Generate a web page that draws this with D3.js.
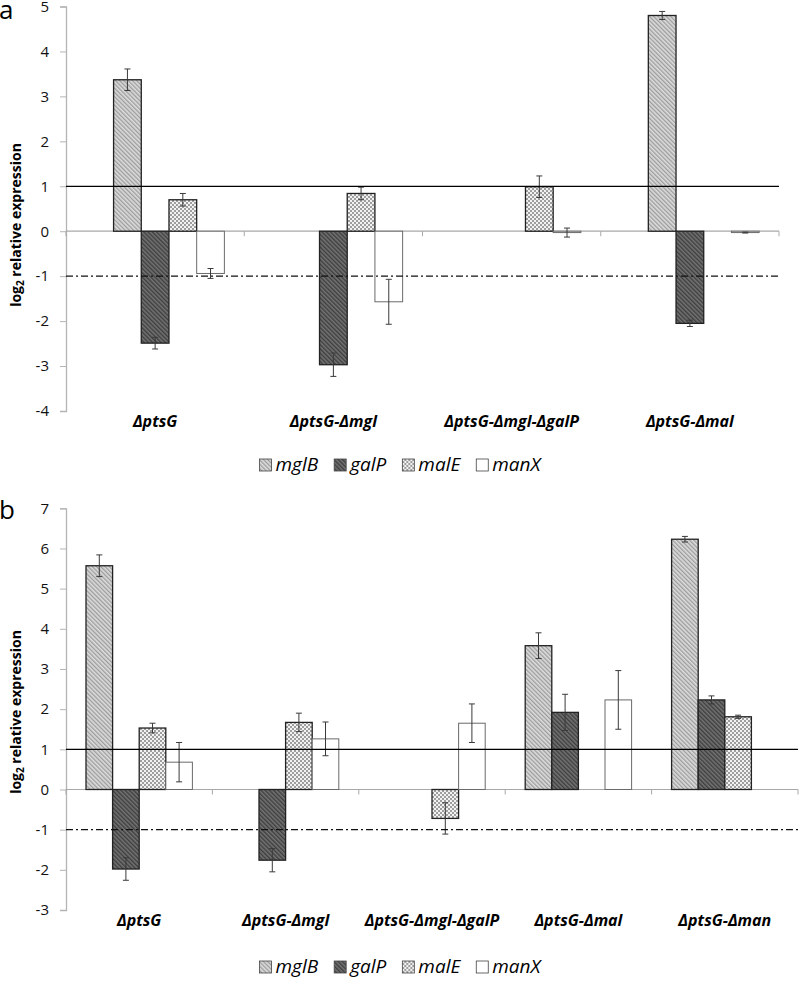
<!DOCTYPE html>
<html>
<head>
<meta charset="utf-8">
<script src="https://cdn.jsdelivr.net/npm/d3@7"></script>
<style>
  body { margin: 0; background: #fff; }
  svg { display: block; font-family: "Open Sans", sans-serif; }
</style>
</head>
<body>
<div id="vis"></div>
<script>

var seriesNames = ["mglB", "galP", "malE", "manX"];

// panel a
var catsA = ["ΔptsG", "ΔptsG-Δmgl", "ΔptsG-Δmgl-ΔgalP", "ΔptsG-Δmal"];
var mglB_A = [3.37, null, null, 4.80];
var galP_A = [-2.49, -2.97, null, -2.05];
var malE_A = [0.70, 0.84, 0.99, null];
var manX_A = [-0.94, -1.57, -0.03, -0.03];
var mglB_A_err = [0.24, null, null, 0.09];
var galP_A_err = [0.13, 0.26, null, 0.07];
var malE_A_err = [0.14, 0.14, 0.24, null];
var manX_A_err = [0.11, 0.50, 0.10, 0.01];
var ticksA = [-4, -3, -2, -1, 0, 1, 2, 3, 4, 5];

// panel b
var catsB = ["ΔptsG", "ΔptsG-Δmgl", "ΔptsG-Δmgl-ΔgalP", "ΔptsG-Δmal", "ΔptsG-Δman"];
var mglB_B = [5.57, null, null, 3.58, 6.23];
var galP_B = [-1.98, -1.76, null, 1.92, 2.23];
var malE_B = [1.53, 1.67, -0.72, null, 1.81];
var manX_B = [0.68, 1.26, 1.65, 2.23, null];
var mglB_B_err = [0.27, null, null, 0.32, 0.07];
var galP_B_err = [0.28, 0.29, null, 0.45, 0.10];
var malE_B_err = [0.12, 0.23, 0.39, null, 0.04];
var manX_B_err = [0.49, 0.42, 0.48, 0.73, null];
var ticksB = [-3, -2, -1, 0, 1, 2, 3, 4, 5, 6, 7];

var width = 800, height = 992;

var svg = d3.select('#vis').append('svg')
  .attr('width', width)
  .attr('height', height);

// fill patterns for the four genes
var defs = svg.append('defs');

var p1 = defs.append('pattern').attr('id', 'pat-mglB')
  .attr('patternUnits', 'userSpaceOnUse').attr('width', 3).attr('height', 3)
  .attr('patternTransform', 'rotate(-45)');
p1.append('rect').attr('width', 3).attr('height', 3).attr('fill', '#dcdcdc');
p1.append('rect').attr('width', 1.3).attr('height', 3).attr('fill', '#9c9c9c');

var p2 = defs.append('pattern').attr('id', 'pat-galP')
  .attr('patternUnits', 'userSpaceOnUse').attr('width', 3).attr('height', 3)
  .attr('patternTransform', 'rotate(-45)');
p2.append('rect').attr('width', 3).attr('height', 3).attr('fill', '#737373');
p2.append('rect').attr('width', 1.4).attr('height', 3).attr('fill', '#3e3e3e');

var p3 = defs.append('pattern').attr('id', 'pat-malE')
  .attr('patternUnits', 'userSpaceOnUse').attr('width', 4).attr('height', 4);
p3.append('rect').attr('width', 4).attr('height', 4).attr('fill', '#f2f2f2');
p3.append('rect').attr('width', 2).attr('height', 2).attr('fill', '#9e9e9e');
p3.append('rect').attr('x', 2).attr('y', 2).attr('width', 2).attr('height', 2).attr('fill', '#9e9e9e');

var fills = {
  mglB: 'url(#pat-mglB)',
  galP: 'url(#pat-galP)',
  malE: 'url(#pat-malE)',
  manX: '#fff'
};
var strokes = { mglB: '#222', galP: '#222', malE: '#222', manX: '#6a6a6a' };

function drawPanel(p) {
  var g = svg.append('g');

  var y = d3.scaleLinear().domain(p.yDomain).range([p.bottom, p.top]);

  var x0 = d3.scaleBand().domain(p.cats).range([p.left, p.right]);
  var bw = p.barWidth;
  var gap = x0.bandwidth() - bw * p.slots.length;
  var x1 = d3.scaleBand().domain(p.slots)
    .range([gap / 2, x0.bandwidth() - gap / 2]);

  // y axis
  var yAxis = d3.axisLeft(y).tickValues(p.ticks).tickSize(6).tickPadding(11)
    .tickFormat(function (d) { return String(d); });
  var ya = g.append('g').attr('transform', 'translate(' + p.left + ',0)').call(yAxis);
  ya.select('.domain').attr('stroke', '#b4b4b4').attr('stroke-width', 1.3);
  ya.selectAll('.tick line').attr('stroke', '#b4b4b4');
  ya.selectAll('.tick text')
    .attr('font-family', '"Open Sans", sans-serif')
    .attr('font-size', 15).attr('fill', '#111');

  // zero axis with category boundary ticks
  g.append('line')
    .attr('x1', p.left).attr('x2', p.right)
    .attr('y1', y(0)).attr('y2', y(0))
    .attr('stroke', '#a8a8a8').attr('stroke-width', 1.2);
  var bounds = p.cats.map(function (c) { return x0(c); }).concat([p.right]);
  g.selectAll('.xtick').data(bounds).enter().append('line')
    .attr('x1', function (d) { return d; }).attr('x2', function (d) { return d; })
    .attr('y1', y(0)).attr('y2', y(0) + 5)
    .attr('stroke', '#a8a8a8');

  // bars
  var bars = [];
  seriesNames.forEach(function (s, si) {
    p.values[si].forEach(function (v, ci) {
      if (v === null) return;
      bars.push({ s: s, cat: p.cats[ci], v: v, e: p.errors[si][ci] });
    });
  });

  g.selectAll('.bar').data(bars).enter().append('rect')
    .attr('class', 'bar')
    .attr('x', function (d) { return x0(d.cat) + x1(d.s); })
    .attr('width', x1.bandwidth())
    .attr('y', function (d) { return y(Math.max(0, d.v)); })
    .attr('height', function (d) { return Math.abs(y(d.v) - y(0)); })
    .attr('fill', function (d) { return fills[d.s]; })
    .attr('stroke', function (d) { return strokes[d.s]; })
    .attr('stroke-width', function (d) { return d.s === 'manX' ? 1 : 1.3; });

  // error bars
  var eb = g.selectAll('.err').data(bars.filter(function (d) { return d.e !== null; }))
    .enter().append('g').attr('class', 'err')
    .attr('stroke', '#3a3a3a').attr('stroke-width', 1);
  var cx = function (d) { return x0(d.cat) + x1(d.s) + x1.bandwidth() / 2; };
  eb.append('line')
    .attr('x1', cx).attr('x2', cx)
    .attr('y1', function (d) { return y(d.v + d.e); })
    .attr('y2', function (d) { return y(d.v - d.e); });
  eb.append('line')
    .attr('x1', function (d) { return cx(d) - 3; }).attr('x2', function (d) { return cx(d) + 3; })
    .attr('y1', function (d) { return y(d.v + d.e); })
    .attr('y2', function (d) { return y(d.v + d.e); });
  eb.append('line')
    .attr('x1', function (d) { return cx(d) - 3; }).attr('x2', function (d) { return cx(d) + 3; })
    .attr('y1', function (d) { return y(d.v - d.e); })
    .attr('y2', function (d) { return y(d.v - d.e); });

  // threshold lines
  g.append('line')
    .attr('x1', p.left).attr('x2', p.right)
    .attr('y1', y(1)).attr('y2', y(1))
    .attr('stroke', '#000').attr('stroke-width', 1.3);
  g.append('line')
    .attr('x1', p.left).attr('x2', p.right)
    .attr('y1', y(-1)).attr('y2', y(-1))
    .attr('stroke', '#111').attr('stroke-width', 1.2)
    .attr('stroke-dasharray', '7,3,2,3');

  // category labels
  g.selectAll('.cat').data(p.cats).enter().append('text')
    .attr('x', function (d) { return x0(d) + x0.bandwidth() / 2; })
    .attr('y', p.bottom + 16)
    .attr('text-anchor', 'middle')
    .attr('font-size', 16)
    .attr('font-weight', 'bold')
    .attr('font-style', 'italic')
    .text(function (d) { return d; });

  // y axis title
  var t = g.append('text')
    .attr('transform', 'translate(' + 21 + ',' + p.titleY + ') rotate(-90)')
    .attr('text-anchor', 'middle')
    .attr('font-size', 14)
    .attr('font-weight', 'bold');
  t.append('tspan').text('log');
  t.append('tspan').attr('font-size', 10).attr('dy', 3).text('2');
  t.append('tspan').attr('dy', -3).text(' relative expression');

  // panel letter
  g.append('text')
    .attr('x', -1).attr('y', p.letterY)
    .attr('font-size', 26)
    .text(p.letter);

  // legend
  var lg = g.append('g');
  var xpos = 0;
  var items = lg.selectAll('.li').data(seriesNames).enter().append('g');
  items.each(function (s) {
    var it = d3.select(this);
    it.append('rect')
      .attr('x', 0).attr('y', -6).attr('width', 12).attr('height', 12)
      .attr('fill', fills[s]).attr('stroke', '#444').attr('stroke-width', 0.8);
    var tx = it.append('text')
      .attr('x', 16).attr('y', 6)
      .attr('font-size', 19).attr('font-style', 'italic')
      .text(s);
    var w = 16 + tx.node().getComputedTextLength();
    it.attr('transform', 'translate(' + xpos + ',0)');
    xpos += w + 16;
  });
  var total = xpos - 16;
  lg.attr('transform', 'translate(' + (400 - total / 2) + ',' + p.legendY + ')');
}

drawPanel({
  cats: catsA,
  values: [mglB_A, galP_A, malE_A, manX_A],
  errors: [mglB_A_err, galP_A_err, malE_A_err, manX_A_err],
  ticks: ticksA,
  yDomain: [-4, 5],
  top: 6.5, bottom: 411,
  left: 66, right: 779,
  barWidth: 27.7,
  slots: ["", "mglB", "galP", "malE", "manX"],
  titleY: 225,
  letter: 'a', letterY: 19,
  legendY: 465
});

drawPanel({
  cats: catsB,
  values: [mglB_B, galP_B, malE_B, manX_B],
  errors: [mglB_B_err, galP_B_err, malE_B_err, manX_B_err],
  ticks: ticksB,
  yDomain: [-3, 7],
  top: 508.3, bottom: 910,
  left: 66, right: 798,
  barWidth: 26.6,
  slots: seriesNames,
  titleY: 712,
  letter: 'b', letterY: 519,
  legendY: 967
});

</script>
</body>
</html>
